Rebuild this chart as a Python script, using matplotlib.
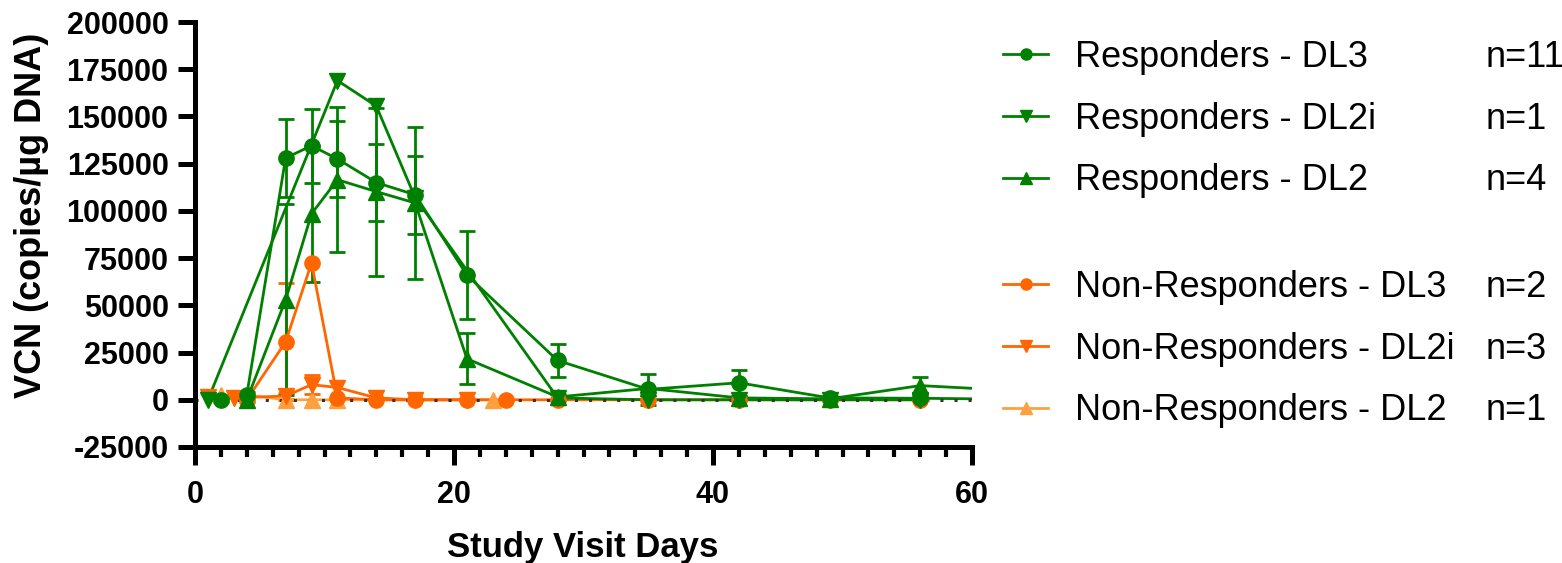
import matplotlib
matplotlib.use("Agg")
import matplotlib.pyplot as plt
from matplotlib.lines import Line2D
from matplotlib.ticker import MultipleLocator, FuncFormatter

# ---------------- data ----------------
days_r_dl3 = [2, 4, 7, 9, 11, 14, 17, 21, 28, 35, 42, 49, 56, 63]
vcn_r_dl3 = [0, 2600, 128000, 134500, 127500, 115000, 108500, 66000, 20800, 5500, 9000, 1000, 800, 300]
sem_r_dl3 = [0, 1500, 20500, 19500, 20000, 20600, 20700, 23300, 8700, 8300, 7000, 800, 1000, 0]

days_r_dl2i = [1, 11, 14, 17, 28, 35, 42, 49, 56]
vcn_r_dl2i = [0, 169000, 155500, 107000, 1000, 0, 0, 0, 0]

days_r_dl2 = [4, 7, 9, 11, 14, 17, 21, 28, 35, 42, 49, 56, 63]
vcn_r_dl2 = [0, 53000, 98500, 116500, 110200, 104200, 21700, 1500, 6000, 1000, 500, 7500, 5000]
sem_r_dl2 = [0, 50500, 36000, 38500, 44500, 40300, 13500, 1500, 0, 1000, 500, 4500, 0]

days_nr_dl3 = [4, 7, 9, 11, 14, 17, 21, 24, 28, 35, 42, 49, 56]
vcn_nr_dl3 = [0, 30700, 72500, 1000, 0, 0, 0, 0, 0, 0, 0, 0, 0]
sem_nr_dl3 = [0, 31000, 0, 0, 0, 0, 0, 0, 0, 0, 0, 0, 0]

days_nr_dl2i = [1, 3, 7, 9, 11, 14, 17, 21]
vcn_nr_dl2i = [1500, 1000, 2000, 8000, 6500, 1000, 0, 0]
sem_nr_dl2i = [0, 0, 1500, 5000, 0, 0, 0, 0]

days_nr_dl2 = [2, 4, 7, 9, 11, 23]
vcn_nr_dl2 = [2500, 2500, 0, 0, 0, 0]

series_labels = ["Responders - DL3", "Responders - DL2i", "Responders - DL2",
                 "Non-Responders - DL3", "Non-Responders - DL2i", "Non-Responders - DL2"]
n_labels = ["n=11", "n=1", "n=4", "n=2", "n=3", "n=1"]

y_ticks = [-25000, 0, 25000, 50000, 75000, 100000, 125000, 150000, 175000, 200000]
x_ticks = [0, 20, 40, 60]

# ---------------- style ----------------
GREEN = "#008000"
ORANGE = "#FF6600"
LIGHT = "#FFA040"
FONT = ["Liberation Sans", "DejaVu Sans"]
plt.rcParams["font.family"] = FONT

fig = plt.figure(figsize=(15.62, 5.63), dpi=100)
W, H = 1562, 563
ax = fig.add_axes([195 / W, 1 - 447 / H, (972 - 195) / W, (447 - 22) / H])

LW = 2.0
MS = 11

def draw(days, vals, color, marker, sem=None, z=2.0):
    ax.plot(days, vals, color=color, lw=LW, zorder=z, solid_joinstyle="round")
    if sem is not None:
        d = [a for a, s in zip(days, sem) if s > 0]
        v = [b for b, s in zip(vals, sem) if s > 0]
        e = [s for s in sem if s > 0]
        ax.errorbar(d, v, yerr=e, fmt="none", ecolor=color, elinewidth=LW,
                    capsize=6, capthick=LW, zorder=z - 0.5)
    ax.plot(days, vals, linestyle="none", marker=marker, color=color,
            markersize=MS, zorder=z + 1.0)

# orange first (below), then green
draw(days_nr_dl2, vcn_nr_dl2, LIGHT, "^", None, z=2.0)
draw(days_nr_dl2i, vcn_nr_dl2i, ORANGE, "v", sem_nr_dl2i, z=2.05)
draw(days_nr_dl3, vcn_nr_dl3, ORANGE, "o", sem_nr_dl3, z=2.1)
draw(days_r_dl2, vcn_r_dl2, GREEN, "^", sem_r_dl2, z=2.2)
draw(days_r_dl2i, vcn_r_dl2i, GREEN, "v", None, z=2.25)
draw(days_r_dl3, vcn_r_dl3, GREEN, "o", sem_r_dl3, z=2.3)

ax.axhline(0, color="#333333", lw=2.2, linestyle=(0, (1.0, 3.6)), zorder=2.5)

ax.set_xlim(0, 60)
ax.set_ylim(-25000, 200000)
ax.set_yticks(y_ticks)
ax.set_xticks(x_ticks)
ax.xaxis.set_minor_locator(MultipleLocator(2))
ax.yaxis.set_major_formatter(FuncFormatter(lambda v, p: f"{int(v)}"))

for s in ["top", "right"]:
    ax.spines[s].set_visible(False)
for s in ["left", "bottom"]:
    ax.spines[s].set_linewidth(3.6)
    ax.spines[s].set_capstyle("projecting")

ax.tick_params(axis="y", which="major", length=12, width=3.6, pad=7, labelsize=22)
ax.tick_params(axis="x", which="major", length=13, width=3.6, pad=11, labelsize=22)
ax.tick_params(axis="x", which="minor", length=7.5, width=3.0)
for lab in ax.get_xticklabels() + ax.get_yticklabels():
    lab.set_fontweight("bold")

fig.text(32 / W, 1 - 215 / H, "VCN (copies/µg DNA)", rotation=90,
         fontsize=26, fontweight="bold", ha="center", va="center")
fig.text(583 / W, 1 - 547 / H, "Study Visit Days", fontsize=25,
         fontweight="bold", ha="center", va="center")

# legends
def handle(color, marker):
    return Line2D([], [], color=color, lw=LW, marker=marker, markersize=8)

h1 = [handle(GREEN, "o"), handle(GREEN, "v"), handle(GREEN, "^")]
h2 = [handle(ORANGE, "o"), handle(ORANGE, "v"), handle(LIGHT, "^")]
FS_LEG = 26
leg_kw = dict(frameon=False, fontsize=FS_LEG, handlelength=1.25, handletextpad=0.75,
              labelspacing=0.74, borderpad=0, borderaxespad=0)
leg1 = fig.legend(h1, series_labels[:3], loc="upper left",
                  bbox_to_anchor=(1003 / W, 1 - 40 / H), **leg_kw)
leg2 = fig.legend(h2, series_labels[3:], loc="upper left",
                  bbox_to_anchor=(1003 / W, 1 - 270 / H), **leg_kw)

fig.canvas.draw()
texts = leg1.get_texts() + leg2.get_texts()
for t, n in zip(texts, n_labels):
    bb = t.get_window_extent()
    yc = (bb.y0 + bb.y1) / 2 / H
    fig.text(1486 / W, yc, n, fontsize=FS_LEG, va="center", ha="left")

fig.savefig("out.png", dpi=100)
